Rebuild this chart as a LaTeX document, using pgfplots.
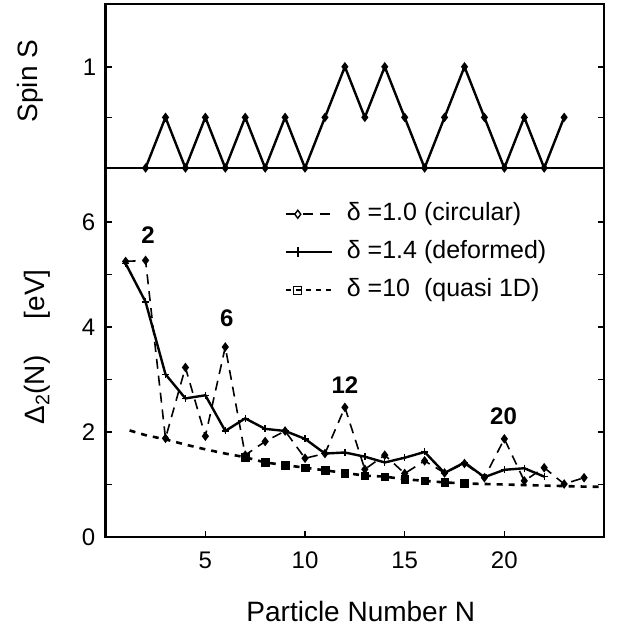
\documentclass[border=0pt]{standalone}
\usepackage{pgfplots}
\pgfplotsset{compat=1.18}
\usepackage{fontspec}
\setmainfont{Liberation Sans}
\setsansfont{Liberation Sans}
\begin{document}
\begin{tikzpicture}
\useasboundingbox (-105.7pt,-91pt) rectangle (514.3pt,537pt);
\pgfplotsset{
  every axis/.append style={
    scale only axis, width=498.3pt, xmin=0, xmax=25,
    axis line style={line width=2.4pt},
    every tick/.style={line width=1.6pt, black},
    major tick length=6pt, minor tick length=6pt,
    /pgf/number format/assume math mode=true,
    tick label style={font=\fontsize{24}{24}\selectfont},
    label style={font=\fontsize{28}{30}\selectfont},
  }
}
% ---------- lower panel ----------
\begin{axis}[at={(0,0)}, anchor=south west, height=369pt,
  ymin=0, ymax=7.03,
  xtick={5,10,15,20}, xtick pos=left,
  ytick={0,2,4,6}, minor ytick={1,3,5}, ytick pos=both,
  xticklabel style={yshift=-11pt},
  yticklabel style={xshift=-7pt},
  xlabel={Particle Number N},
  xlabel style={at={(axis description cs:0.512,-0.203)}, anchor=center},
  ylabel={Δ\textsubscript{2}(N)\hspace{1.3em}[eV]},
  ylabel style={at={(axis description cs:-0.138,0.515)}, anchor=center},
  legend image code/.code={
    \draw[mark repeat=2, mark phase=2] plot coordinates {(0pt,0pt) (12pt,0pt) (46pt,0pt)};
  },
  legend style={draw=none, fill=none, inner sep=0pt,
    at={(axis cs:8.97,6.40)}, anchor=north west,
    font=\fontsize{25}{25}\selectfont,
    nodes={inner sep=1pt, text height=18pt, text depth=6pt},
    row sep=12pt, column sep=13pt},
  legend cell align=left,
]
\addlegendimage{black, line width=1.6pt, dash pattern=on 10pt off 7pt, mark=diamond, mark size=4pt, mark options={solid, fill=white, line width=1.4pt}}
\addlegendentry{δ =1.0 (circular)}
\addlegendimage{black, line width=2.2pt, mark=+, mark size=5pt, mark options={solid, line width=1.6pt}}
\addlegendentry{δ =1.4 (deformed)}
\addlegendimage{black, line width=2pt, dash pattern=on 5pt off 5pt, mark=square, mark size=4pt, mark options={solid, fill=white, line width=1.4pt}}
\addlegendentry{δ =10\ \ (quasi 1D)}

% quasi 1D curve
\addplot[forget plot, black, line width=2.6pt, dash pattern=on 6pt off 6pt] coordinates {
(1.2,2.03) (2,1.94) (3,1.86) (4,1.76) (5,1.67) (6,1.59) (7,1.52) (8,1.42) (9,1.37)
(10,1.32) (11,1.27) (12,1.22) (13,1.17) (14,1.15) (15,1.10) (16,1.07) (17,1.04)
(18,1.02) (19,1.01) (20,1.00) (21,0.99) (22,0.98) (23,0.97) (24,0.96) (25,0.955)};
\addplot[forget plot, only marks, black, mark=square*, mark size=3.8pt] coordinates {
(7,1.52) (8,1.42) (9,1.37) (10,1.32) (11,1.27) (12,1.22) (13,1.17) (14,1.15)
(15,1.10) (16,1.07) (17,1.04) (18,1.02)};
% circular
\addplot[forget plot, black, line width=1.6pt, dash pattern=on 10pt off 7pt, mark=diamond*, mark size=3.5pt, mark options={solid}] coordinates {
(1,5.25) (2,5.27) (3,1.88) (4,3.23) (5,1.92) (6,3.62) (7,1.56) (8,1.82) (9,2.02)
(10,1.50) (11,1.59) (12,2.47) (13,1.29) (14,1.56) (15,1.21) (16,1.45) (17,1.22)
(18,1.40) (19,1.13) (20,1.87) (21,1.07) (22,1.32) (23,1.01) (24,1.13)};
% deformed
\addplot[forget plot, black, line width=2.4pt, mark=+, mark size=3.5pt, mark options={line width=1.4pt}] coordinates {
(1,5.21) (2,4.48) (3,3.10) (4,2.64) (5,2.70) (6,2.02) (7,2.26) (8,2.06) (9,2.02)
(10,1.87) (11,1.59) (12,1.61) (13,1.53) (14,1.42) (15,1.51) (16,1.62) (17,1.22)
(18,1.42) (19,1.14) (20,1.28) (21,1.31) (22,1.15)};

\node[font=\bfseries\fontsize{24}{24}\selectfont] at (axis cs:2.12,5.75) {2};
\node[font=\bfseries\fontsize{24}{24}\selectfont] at (axis cs:6.08,4.17) {6};
\node[font=\bfseries\fontsize{24}{24}\selectfont] at (axis cs:12.0,2.90) {12};
\node[font=\bfseries\fontsize{24}{24}\selectfont] at (axis cs:19.96,2.30) {20};
\end{axis}
% ---------- upper panel ----------
\begin{axis}[at={(0,369pt)}, anchor=south west, height=164pt,
  ymin=0, ymax=1.62, clip=false,
  xtick=\empty,
  ytick={0.5,1}, yticklabels={,1}, ytick pos=both,
  yticklabel style={xshift=-6pt},
  ylabel={Spin S},
  ylabel style={at={(axis description cs:-0.152,0.53)}, anchor=center},
]
\addplot[black, line width=2.4pt, mark=diamond*, mark size=2.8pt] coordinates {
(2,0) (3,0.5) (4,0) (5,0.5) (6,0) (7,0.5) (8,0) (9,0.5) (10,0) (11,0.5) (12,1)
(13,0.5) (14,1) (15,0.5) (16,0) (17,0.5) (18,1) (19,0.5) (20,0) (21,0.5) (22,0) (23,0.5)};
\end{axis}
\end{tikzpicture}
\end{document}
